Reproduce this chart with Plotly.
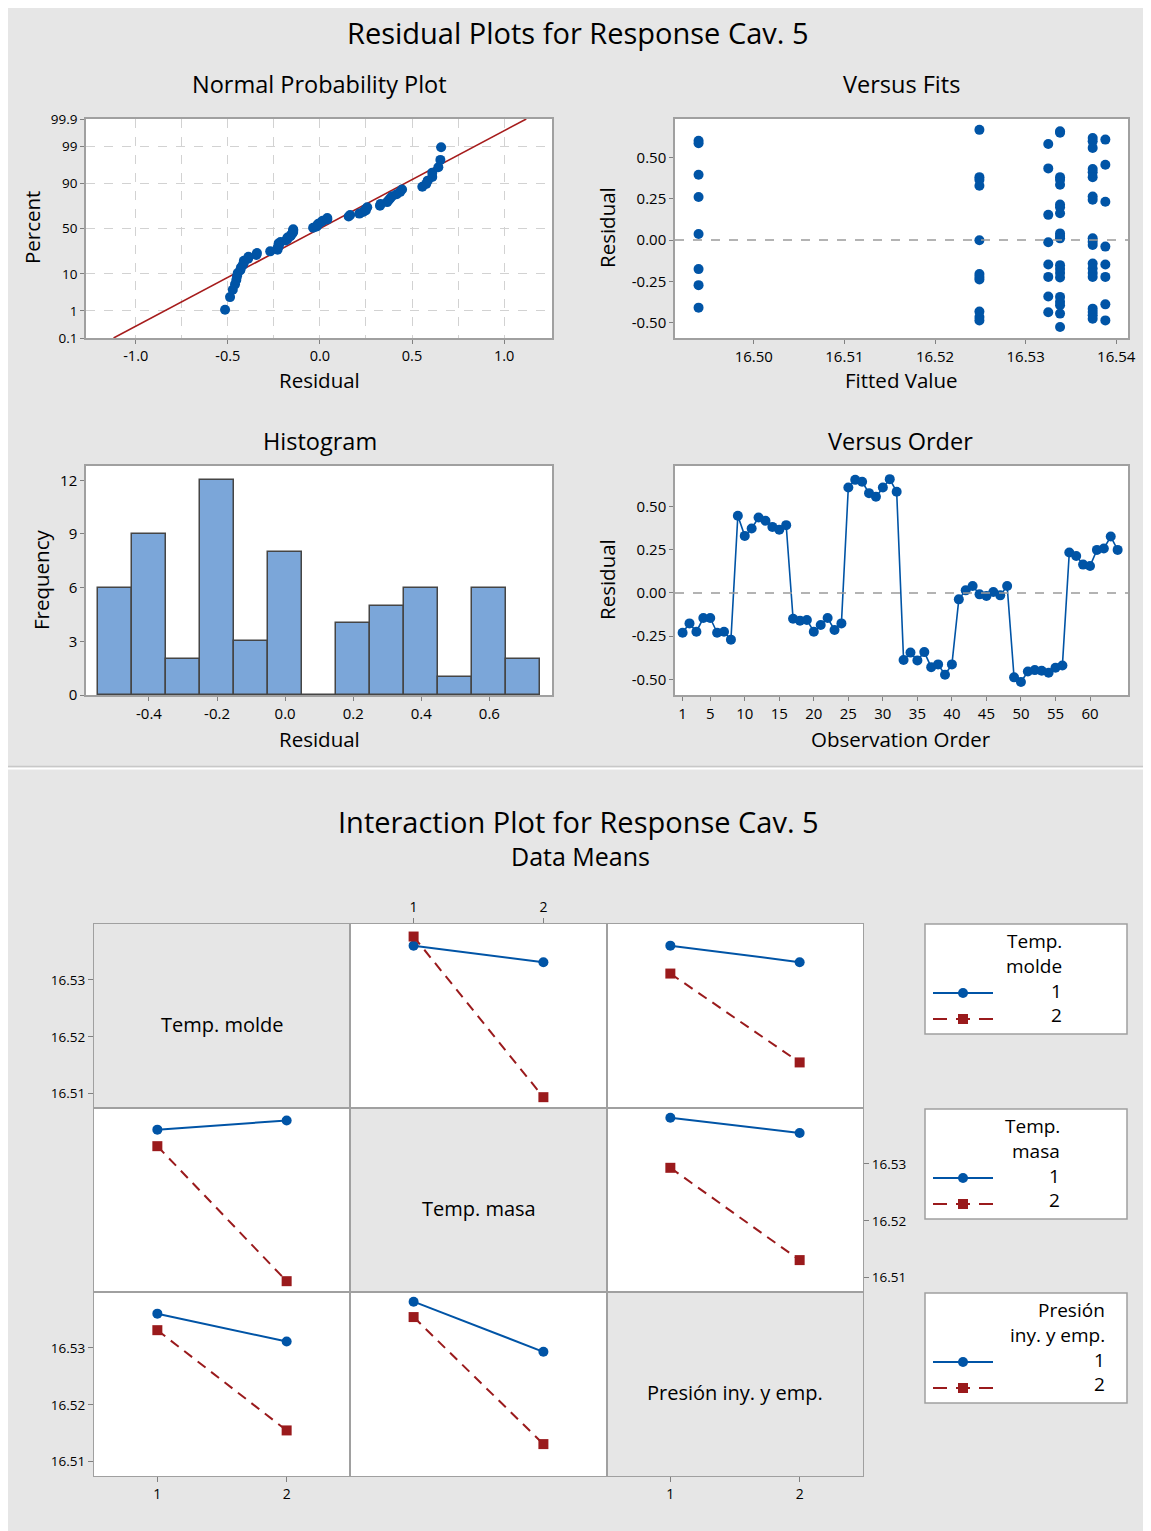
import plotly.graph_objects as go
from statistics import NormalDist, mean, stdev

# ---------------- data ----------------
residuals = [
    -0.230, -0.176, -0.224, -0.145, -0.145, -0.230, -0.224, -0.270,
    0.446, 0.330, 0.373, 0.436, 0.417, 0.382, 0.365, 0.392,
    -0.149, -0.160, -0.156, -0.224, -0.185, -0.145, -0.214, -0.176,
    0.610, 0.654, 0.643, 0.577, 0.556, 0.610, 0.658, 0.585,
    -0.388, -0.345, -0.390, -0.342, -0.429, -0.413, -0.473, -0.413,
    -0.037, 0.015, 0.040, -0.008, -0.017, 0.006, -0.014, 0.040,
    -0.488, -0.515, -0.454, -0.446, -0.450, -0.461, -0.432, -0.419,
    0.234, 0.214, 0.164, 0.156, 0.249, 0.257, 0.326, 0.249,
]
observation_order = list(range(1, len(residuals) + 1))

fit_levels = [16.4939, 16.5249, 16.5325, 16.5338, 16.5374, 16.5388]
fit_residual_groups = [
    [0.600, 0.585, 0.395, 0.260, 0.036, -0.176, -0.273, -0.409],
    [0.666, 0.380, 0.364, 0.328, -0.002, -0.206, -0.223, -0.239, -0.433, -0.466, -0.486],
    [0.580, 0.433, 0.152, -0.014, -0.148, -0.223, -0.342, -0.437],
    [0.658, 0.648, 0.380, 0.364, 0.334, 0.215, 0.198, 0.162, 0.040, 0.024, 0.010,
     -0.152, -0.176, -0.200, -0.227, -0.344, -0.374, -0.395, -0.445, -0.526],
    [0.617, 0.597, 0.557, 0.429, 0.409, 0.380, 0.263, 0.243, 0.010, -0.010, -0.030,
     -0.142, -0.172, -0.200, -0.223, -0.415, -0.435, -0.455, -0.476],
    [0.607, 0.455, 0.231, -0.040, -0.148, -0.223, -0.389, -0.486],
]

hist_bin_centers = [-0.5, -0.4, -0.3, -0.2, -0.1, 0.0, 0.1, 0.2, 0.3, 0.4, 0.5, 0.6, 0.7]
hist_counts = [6, 9, 2, 12, 3, 8, 0, 4, 5, 6, 1, 6, 2]

percent_ticks = [0.1, 1, 10, 50, 90, 99, 99.9]
npp_x_ticks = [-1.0, -0.5, 0.0, 0.5, 1.0]
residual_ticks = [-0.50, -0.25, 0.00, 0.25, 0.50]
fit_ticks = [16.50, 16.51, 16.52, 16.53, 16.54]
hist_x_ticks = [-0.4, -0.2, 0.0, 0.2, 0.4, 0.6]
hist_y_ticks = [0, 3, 6, 9, 12]
order_ticks = [1, 5, 10, 15, 20, 25, 30, 35, 40, 45, 50, 55, 60]

factor_names = ["Temp. molde", "Temp. masa", "Presión iny. y emp."]
legend_titles = [["Temp.", "molde"], ["Temp.", "masa"], ["Presión", "iny. y emp."]]
levels = [1, 2]
# means[level of first factor][level of second factor] for each pair (i, j), i < j
means_molde_masa = [[16.5360, 16.5331], [16.5376, 16.5094]]
means_molde_presion = [[16.5360, 16.5331], [16.5311, 16.5155]]
means_masa_presion = [[16.5381, 16.5354], [16.5293, 16.5131]]
pair_means = {(0, 1): means_molde_masa, (0, 2): means_molde_presion, (1, 2): means_masa_presion}
interaction_ticks = [16.51, 16.52, 16.53]

# ---------------- style ----------------
W, H = 1151, 1531
OX, OY = 8, 8          # page offset of the figure (default body margin)
FONT = "Open Sans"
BLUE = "#0054A6"
RED = "#9A1A1C"
FRAME = "#A0A0A0"
PANEL = "#E6E6E6"


def px(x):
    return (x - OX) / W


def py(y):
    return 1 - (y - OY) / H


def fmt(vals, spec):
    return [format(v, spec) for v in vals]


layout = {"shapes": []}
fig = go.Figure()


def set_axes(i, xdom, ydom, xcfg, ycfg):
    xn = "xaxis" if i == 1 else f"xaxis{i}"
    yn = "yaxis" if i == 1 else f"yaxis{i}"
    xa = "x" if i == 1 else f"x{i}"
    ya = "y" if i == 1 else f"y{i}"
    layout[xn] = dict(domain=[px(xdom[0]), px(xdom[1])], anchor=ya, automargin=False, **xcfg)
    layout[yn] = dict(domain=[py(ydom[1]), py(ydom[0])], anchor=xa, automargin=False, **ycfg)
    return xa, ya


def cell_fill(xa, ya, color):
    layout["shapes"].append(dict(type="rect", xref=f"{xa} domain", yref=f"{ya} domain",
                                 x0=0, x1=1, y0=0, y1=1, fillcolor=color,
                                 line=dict(width=0), layer="below"))


tick_font = dict(family=FONT, size=15, color="black")
base_axis = dict(showline=True, linecolor=FRAME, linewidth=1.5, mirror=True,
                 ticks="outside", ticklen=4, tickcolor="#808080", zeroline=False,
                 showgrid=False, tickfont=tick_font)

# ---- Normal probability plot ----
nd = NormalDist()
n = len(residuals)
sorted_res = sorted(residuals)
z_vals = [nd.inv_cdf((i - 0.3) / (n + 0.4)) for i in range(1, n + 1)]
mu, sigma = mean(residuals), stdev(residuals)
z_lo, z_hi = nd.inv_cdf(0.001), nd.inv_cdf(0.999)
tick_z = [nd.inv_cdf(p / 100) for p in percent_ticks]
grid = dict(showgrid=True, griddash="dash", gridcolor="#D2D2D2", gridwidth=1.2)

xa, ya = set_axes(
    1, (86, 552), (119, 338),
    dict(base_axis, range=[-1.27, 1.26], tickvals=npp_x_ticks, ticktext=fmt(npp_x_ticks, ".1f"),
         tickfont=dict(family=FONT, size=14.5, color="black"), **grid,
         minor=dict(tickvals=[-0.75, -0.25, 0.25, 0.75], ticks="", **grid)),
    dict(base_axis, range=[z_lo, z_hi], tickvals=tick_z, ticktext=[f"{p:g}" for p in percent_ticks],
         tickfont=dict(family=FONT, size=13.5, color="black"), **grid),
)
cell_fill(xa, ya, "white")
fig.add_trace(go.Scatter(x=[mu + sigma * z_lo, mu + sigma * z_hi], y=[z_lo, z_hi], mode="lines",
                         line=dict(color="#A61C1C", width=1.6), xaxis=xa, yaxis=ya, showlegend=False))
fig.add_trace(go.Scatter(x=sorted_res, y=z_vals, mode="markers",
                         marker=dict(color=BLUE, size=10), xaxis=xa, yaxis=ya, showlegend=False))

# ---- Versus Fits ----
xa, ya = set_axes(
    2, (675, 1128), (119, 338),
    dict(base_axis, range=[16.4913, 16.5413], tickvals=fit_ticks, ticktext=fmt(fit_ticks, ".2f")),
    dict(base_axis, range=[-0.5925, 0.7316], tickvals=residual_ticks, ticktext=fmt(residual_ticks, ".2f")),
)
cell_fill(xa, ya, "white")
fx, fy = [], []
for lvl, grp in zip(fit_levels, fit_residual_groups):
    fx += [lvl] * len(grp)
    fy += grp
fig.add_trace(go.Scatter(x=fx, y=fy, mode="markers", marker=dict(color=BLUE, size=10),
                         xaxis=xa, yaxis=ya, showlegend=False))
layout["shapes"].append(dict(type="line", xref="x2 domain", yref="y2", x0=0, x1=1, y0=0, y1=0,
                             line=dict(color="#9A9A9A", width=1.6, dash="dash")))

# ---- Histogram ----
xa, ya = set_axes(
    3, (86, 552), (466, 695),
    dict(base_axis, range=[-0.585, 0.784], tickvals=hist_x_ticks, ticktext=fmt(hist_x_ticks, ".1f")),
    dict(base_axis, range=[0, 12.8], tickvals=hist_y_ticks),
)
cell_fill(xa, ya, "white")
fig.add_trace(go.Bar(x=hist_bin_centers, y=hist_counts, width=0.1,
                     marker=dict(color="#7BA6D9", line=dict(color="#454545", width=1.5)),
                     xaxis=xa, yaxis=ya, showlegend=False))

# ---- Versus Order ----
xa, ya = set_axes(
    4, (675, 1128), (466, 695),
    dict(base_axis, range=[-0.1, 65.5], tickvals=order_ticks),
    dict(base_axis, range=[-0.59, 0.734], tickvals=residual_ticks, ticktext=fmt(residual_ticks, ".2f")),
)
cell_fill(xa, ya, "white")
fig.add_trace(go.Scatter(x=observation_order, y=residuals, mode="lines+markers",
                         line=dict(color=BLUE, width=1.6), marker=dict(color=BLUE, size=10),
                         xaxis=xa, yaxis=ya, showlegend=False))
layout["shapes"].append(dict(type="line", xref="x4 domain", yref="y4", x0=0, x1=1, y0=0, y1=0,
                             line=dict(color="#9A9A9A", width=1.6, dash="dash")))

# ---- Interaction matrix ----
col_px = [(94, 350), (350, 607), (607, 863)]
row_px = [(924, 1108), (1108, 1292), (1292, 1476)]
small_font = dict(family=FONT, size=14, color="black")
annotations = []
for r in range(3):
    for c in range(3):
        idx = 5 + 3 * r + c
        xcfg = dict(showline=True, linecolor=FRAME, linewidth=1.2, mirror=True, zeroline=False,
                    showgrid=False, range=[0.51, 2.49], tickvals=levels, tickfont=small_font,
                    ticks="", showticklabels=False, ticklen=5, tickcolor="#808080")
        ycfg = dict(showline=True, linecolor=FRAME, linewidth=1.2, mirror=True, zeroline=False,
                    showgrid=False, range=[16.5075, 16.5398], tickvals=interaction_ticks,
                    ticktext=fmt(interaction_ticks, ".2f"), tickfont=dict(small_font, size=13.5),
                    ticks="", showticklabels=False, ticklen=5, tickcolor="#808080")
        if c == 1 and r == 0:
            xcfg.update(ticks="outside", showticklabels=True, side="top")
        if c in (0, 2) and r == 2:
            xcfg.update(ticks="outside", showticklabels=True, side="bottom")
        if c == 0 and r in (0, 2):
            ycfg.update(ticks="outside", showticklabels=True, side="left")
        if c == 2 and r == 1:
            ycfg.update(ticks="outside", showticklabels=True, side="right")
        xa, ya = set_axes(idx, col_px[c], row_px[r], xcfg, ycfg)
        if r == c:
            # empty trace so that this label cell exists as a subplot with its axes
            fig.add_trace(go.Scatter(x=[], y=[], xaxis=xa, yaxis=ya, showlegend=False, hoverinfo="skip"))
            cell_fill(xa, ya, PANEL)
            annotations.append(dict(text=factor_names[r], xref=f"{xa} domain", yref=f"{ya} domain",
                                    x=0.5, y=0.452, showarrow=False, yanchor="middle",
                                    font=dict(family=FONT, size=20, color="black")))
            continue
        cell_fill(xa, ya, "white")
        for li, lvl in enumerate(levels):
            if r < c:
                ys = [pair_means[(r, c)][li][cj] for cj in range(2)]
            else:
                ys = [pair_means[(c, r)][cj][li] for cj in range(2)]
            if li == 0:
                style = dict(line=dict(color=BLUE, width=2),
                             marker=dict(color=BLUE, size=10, symbol="circle"))
            else:
                style = dict(line=dict(color=RED, width=2, dash="10px,7px"),
                             marker=dict(color=RED, size=10, symbol="square"))
            fig.add_trace(go.Scatter(x=levels, y=ys, mode="lines+markers", xaxis=xa, yaxis=ya,
                                     showlegend=False, **style))

# ---------------- panel separators / titles ----------------
panel_shapes = [
    dict(type="rect", xref="paper", yref="paper", x0=px(0), x1=px(1160), y0=py(769.5), y1=py(767.5),
         fillcolor="white", line=dict(width=0), layer="below"),
    dict(type="line", xref="paper", yref="paper", x0=px(4), x1=px(1148), y0=py(766.5), y1=py(766.5),
         line=dict(color="#C8C8C8", width=1.5), layer="below"),
    dict(type="rect", xref="paper", yref="paper", x0=px(1148.5), x1=px(1160), y0=py(767), y1=py(0),
         fillcolor="white", line=dict(width=0), layer="below"),
]


def txt(s, x, y, size, angle=0, xanchor="center"):
    annotations.append(dict(text=s, x=px(x), y=py(y), xref="paper", yref="paper", showarrow=False,
                            xanchor=xanchor, yanchor="middle", textangle=angle,
                            font=dict(family=FONT, size=size, color="black")))


txt("Residual Plots for Response Cav. 5", 578, 33, 29)
txt("Normal Probability Plot", 319, 84, 23.5)
txt("Versus Fits", 901, 84, 23.5)
txt("Histogram", 320, 441, 23.5)
txt("Versus Order", 900, 441, 23.5)
txt("Residual", 319, 380, 20.5)
txt("Percent", 32, 228, 20.5, -90)
txt("Fitted Value", 901, 380, 20.5)
txt("Residual", 607, 228, 20.5, -90)
txt("Residual", 319, 739, 20.5)
txt("Frequency", 41, 580, 20.5, -90)
txt("Observation Order", 901, 739, 20.5)
txt("Residual", 607, 580, 20.5, -90)
txt("Interaction Plot for Response Cav. 5", 578, 821, 29)
txt("Data Means", 580, 856, 25)

# legend keys (decorative)
legend_boxes = [(924, 1034), (1109, 1219), (1293, 1403)]
title_right = [1064, 1062, 1107]
for k, (top, bot) in enumerate(legend_boxes):
    panel_shapes.append(dict(type="rect", xref="paper", yref="paper", x0=px(925), x1=px(1127),
                             y0=py(bot), y1=py(top), fillcolor="white",
                             line=dict(color=FRAME, width=1.5)))
    t1, t2 = legend_titles[k]
    txt(t1, title_right[k], top + 17, 19, xanchor="right")
    txt(t2, title_right[k], top + 42, 19, xanchor="right")
    y1 = top + 69
    y2 = top + 95
    txt("1", title_right[k], y1 - 2, 19, xanchor="right")
    txt("2", title_right[k], y2 - 4, 19, xanchor="right")
    panel_shapes.append(dict(type="line", xref="paper", yref="paper", x0=px(933), x1=px(993),
                             y0=py(y1), y1=py(y1), line=dict(color=BLUE, width=2)))
    panel_shapes.append(dict(type="circle", xref="paper", yref="paper", x0=px(958), x1=px(968),
                             y0=py(y1 + 5), y1=py(y1 - 5), fillcolor=BLUE, line=dict(width=0)))
    panel_shapes.append(dict(type="line", xref="paper", yref="paper", x0=px(933), x1=px(993),
                             y0=py(y2), y1=py(y2), line=dict(color=RED, width=2, dash="14px,9px")))
    panel_shapes.append(dict(type="rect", xref="paper", yref="paper", x0=px(958), x1=px(968),
                             y0=py(y2 + 5), y1=py(y2 - 5), fillcolor=RED, line=dict(width=0)))

layout["shapes"] = panel_shapes + layout["shapes"]
layout["annotations"] = annotations

fig.update_layout(
    width=W, height=H, margin=dict(l=0, r=0, t=0, b=0, pad=0, autoexpand=False),
    paper_bgcolor=PANEL, plot_bgcolor="white", showlegend=False,
    font=dict(family=FONT, color="black"), bargap=0,
    **layout,
)
fig.write_html("out.html")
